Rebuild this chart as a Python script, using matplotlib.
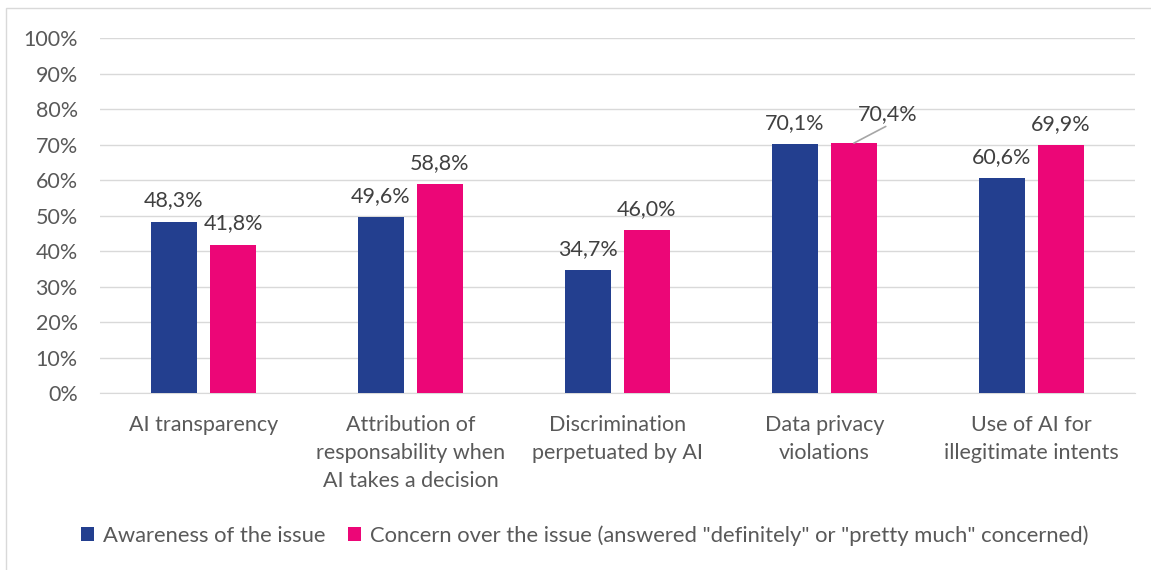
import numpy as np
import matplotlib.pyplot as plt
from matplotlib.patches import Rectangle

# -------------------------------------------------------------------
# Data
# -------------------------------------------------------------------
categories = [
    "AI transparency",
    "Attribution of\nresponsability when\nAI takes a decision",
    "Discrimination\nperpetuated by AI",
    "Data privacy\nviolations",
    "Use of AI for\nillegitimate intents",
]
awareness = [48.3, 49.6, 34.7, 70.1, 60.6]
concern = [41.8, 58.8, 46.0, 70.4, 69.9]
series_names = [
    "Awareness of the issue",
    'Concern over the issue (answered "definitely" or "pretty much" concerned)',
]

BLUE = "#233F8F"
PINK = "#EC0677"
TEXT = "#595959"
LABEL = "#404040"
GRID = "#D9D9D9"
FS = 15.5

plt.rcParams["font.family"] = ["Lato", "DejaVu Sans"]

fig = plt.figure(figsize=(11.51, 5.70), dpi=100)
ax = fig.add_axes([0.0869, 0.3105, 0.8991, 0.6228])

x = np.arange(len(categories))
width = 0.222
offset = 0.1425

b1 = ax.bar(x - offset, awareness, width, color=BLUE, label=series_names[0], zorder=3)
b2 = ax.bar(x + offset, concern, width, color=PINK, label=series_names[1], zorder=3)

def fmt(v):
    return f"{v:.1f}%".replace(".", ",")

for i, v in enumerate(awareness):
    ax.annotate(fmt(v), (x[i] - offset, v), xytext=(0, 8), textcoords="offset points",
                ha="center", va="bottom", fontsize=FS, color=LABEL)
for i, v in enumerate(concern):
    if i == 3:
        # label moved away from the bar with a leader line
        ax.annotate(fmt(v), (x[i] + offset, v), xytext=(24, 14), textcoords="offset points",
                    ha="center", va="bottom", fontsize=FS, color=LABEL,
                    arrowprops=dict(arrowstyle="-", color="#A6A6A6", lw=1.2,
                                    shrinkA=0, shrinkB=0, relpos=(0.5, -0.1)))
    else:
        ax.annotate(fmt(v), (x[i] + offset, v), xytext=(0, 8), textcoords="offset points",
                    ha="center", va="bottom", fontsize=FS, color=LABEL)

ax.set_xlim(-0.5, len(categories) - 0.5)
ax.set_ylim(0, 100)
ax.set_yticks(np.arange(0, 101, 10))
ax.set_yticklabels([f"{t}%" for t in range(0, 101, 10)])
ax.set_xticks(x)
ax.set_xticklabels(categories, linespacing=1.5)
ax.tick_params(axis="both", length=0, labelsize=FS, colors=TEXT)
ax.tick_params(axis="x", pad=16)
ax.tick_params(axis="y", pad=16)

ax.grid(axis="y", color=GRID, lw=1, zorder=0)
for s in ["top", "right", "left"]:
    ax.spines[s].set_visible(False)
ax.spines["bottom"].set_color(GRID)

fig.legend(handles=[b1, b2], labels=series_names, loc="center", bbox_to_anchor=(0.508, 0.06),
           ncol=2, frameon=False, fontsize=15.8, labelcolor=TEXT, handlelength=0.6,
           handleheight=0.6, handletextpad=0.4, columnspacing=1.0)

fig.patches.append(Rectangle((0.005, -0.02), 1.2, 1.006, transform=fig.transFigure,
                             fill=False, edgecolor="#D9D9D9", lw=1))

fig.savefig("out.png", dpi=100)
